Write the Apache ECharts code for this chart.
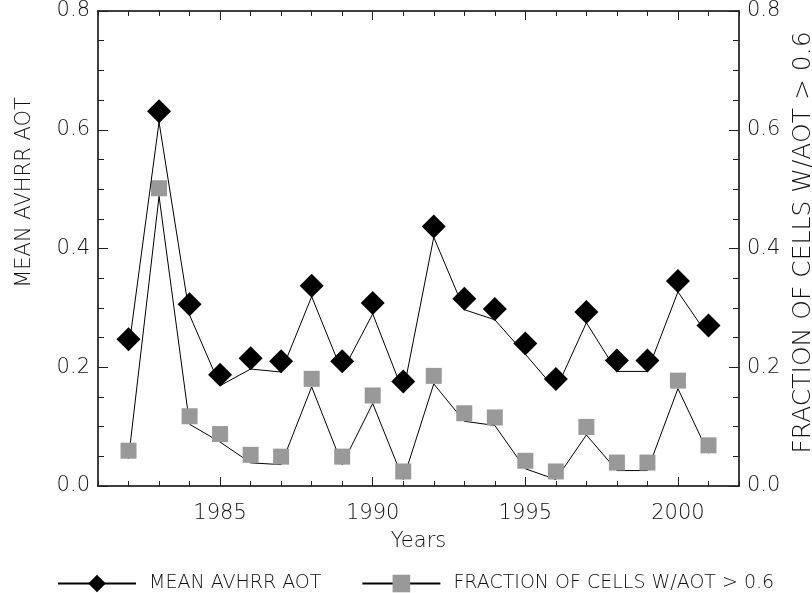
<!DOCTYPE html>
<html>
<head>
<meta charset="utf-8">
<script src="https://cdn.jsdelivr.net/npm/echarts@6/dist/echarts.min.js"></script>
<style>
html,body{margin:0;padding:0;background:#fff;}
#chart{width:812px;height:593px;}
</style>
</head>
<body>
<div id="chart"></div>
<script>
var years = [1982,1983,1984,1985,1986,1987,1988,1989,1990,1991,1992,1993,1994,1995,1996,1997,1998,1999,2000,2001];
var meanAot = [0.229,0.613,0.288,0.169,0.197,0.192,0.319,0.192,0.290,0.158,0.419,0.297,0.280,0.222,0.162,0.275,0.193,0.193,0.327,0.252];
var fracCells = [0.046,0.488,0.104,0.074,0.039,0.036,0.167,0.036,0.139,0.011,0.172,0.109,0.102,0.029,0.011,0.086,0.026,0.026,0.164,0.055];
var majorYears = [1985,1990,1995,2000];
var minorYears = [1981,1982,1983,1984,1985,1986,1987,1988,1989,1990,1991,1992,1993,1994,1995,1996,1997,1998,1999,2000,2001,2002];
var seriesNames = ['MEAN AVHRR AOT','FRACTION OF CELLS W/AOT > 0.6'];

var FONT = 'DejaVu Sans';
var TXT = '#111';
var chart = echarts.init(document.getElementById('chart'), null, {renderer:'canvas'});

function xAx(pos, ticks, len, showLine, showLabel) {
  return {
    type:'value', min:1981, max:2002, position:pos,
    axisLine:{show:showLine, lineStyle:{color:'#000', width:1.5}},
    axisTick:{show:true, inside:true, length:len, customValues:ticks, lineStyle:{color:'#222', width:1}},
    axisLabel:{show:showLabel, customValues:majorYears, margin:17, color:TXT, fontFamily:FONT, fontSize:21, fontWeight:200,
      formatter:function(v){return String(v);}},
    splitLine:{show:false}
  };
}
var xAxes = [
  xAx('bottom', majorYears, 9, true, true),
  xAx('bottom', minorYears, 5, false, false),
  xAx('top', majorYears, 9, true, false),
  xAx('top', minorYears, 5, false, false)
];
xAxes[0].name = 'Years';
xAxes[0].nameLocation = 'middle';
xAxes[0].nameGap = 45;
xAxes[0].nameTextStyle = {color:TXT, fontFamily:FONT, fontSize:21, fontWeight:200};

function yAx(pos, name, gap, size, pad) {
  return {
    type:'value', min:0, max:0.8, interval:0.2, position:pos,
    name:name, nameLocation:'middle', nameRotate:90, nameGap:gap,
    nameTextStyle:{color:TXT, fontFamily:FONT, fontSize:size, fontWeight:200, padding:pad},
    axisLine:{show:true, lineStyle:{color:'#000', width:1.5}},
    axisTick:{show:true, inside:true, length:10, lineStyle:{color:'#222', width:1}},
    minorTick:{show:true, splitNumber:4, length:6, lineStyle:{color:'#222', width:1}},
    axisLabel:{margin:8, color:TXT, fontFamily:FONT, fontSize:21, fontWeight:200, formatter:function(v){return v.toFixed(1);}},
    splitLine:{show:false}, minorSplitLine:{show:false}
  };
}

var option = {
  backgroundColor:'#fff',
  animation:false,
  grid:{left:98, right:73, top:11, bottom:107, containLabel:false, outerBoundsMode:'none'},
  xAxis: xAxes,
  yAxis: [
    yAx('left', seriesNames[0], 63, 21, [0,0,0,112]),
    yAx('right', seriesNames[1], 50, 25, [0,0,0,12])
  ],
  legend:{
    left:52, top:569, itemWidth:78, itemHeight:22, itemGap:40,
    textStyle:{color:TXT, fontFamily:FONT, fontSize:19, fontWeight:200, padding:[0,0,0,8]},
    data:[seriesNames[0], seriesNames[1]]
  },
  series:[
    {
      name:seriesNames[0], type:'line', xAxisIndex:0, yAxisIndex:0,
      data: years.map(function(y,i){return [y, meanAot[i]];}),
      symbol:'diamond', symbolSize:24, symbolOffset:[0,'-45%'],
      lineStyle:{color:'#000', width:1},
      itemStyle:{color:'#000'}, z:3
    },
    {
      name:seriesNames[1], type:'line', xAxisIndex:0, yAxisIndex:1,
      data: years.map(function(y,i){return [y, fracCells[i]];}),
      symbol:'rect', symbolSize:16, symbolOffset:[0,'-50%'],
      lineStyle:{color:'#000', width:1},
      itemStyle:{color:'#999'}, z:2
    }
  ]
};
chart.setOption(option);
</script>
</body>
</html>
